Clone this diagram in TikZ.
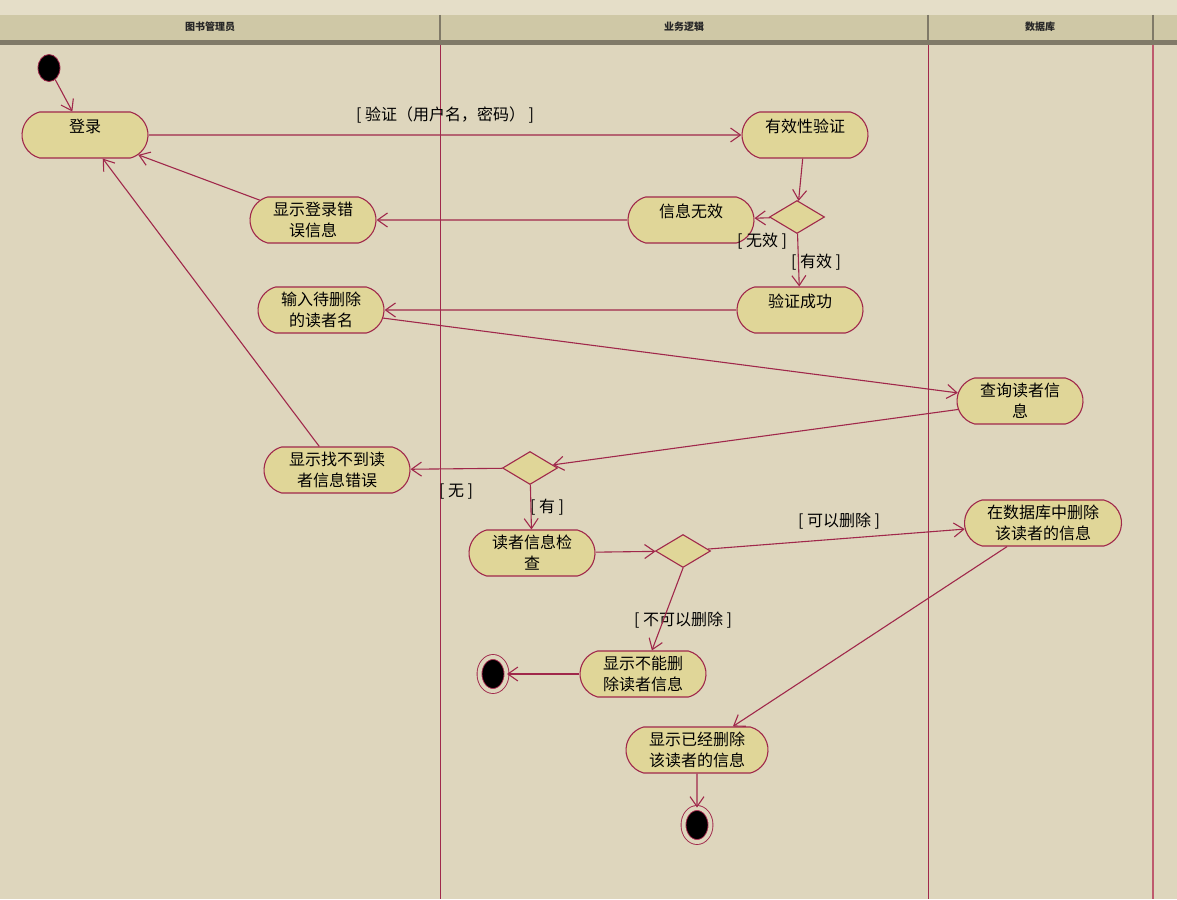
\documentclass[tikz,border=0pt]{standalone}
\usepackage{fontspec}
\setmainfont{Noto Sans CJK SC}
\usepackage{tikz}
\usetikzlibrary{shapes.misc,shapes.geometric,arrows.meta}

\definecolor{bgcol}{RGB}{222,214,189}
\definecolor{topcol}{RGB}{229,222,200}
\definecolor{headcol}{RGB}{207,200,166}
\definecolor{headdark}{RGB}{128,122,104}
\definecolor{umlred}{RGB}{160,40,75}
\definecolor{lanepink}{RGB}{190,90,110}
\definecolor{actfill}{RGB}{224,214,152}

\begin{document}
\begin{tikzpicture}[
    x=1pt, y=-1pt,
    act/.style={rounded rectangle, rounded rectangle arc length=150, draw=umlred, fill=actfill, line width=1.1pt, minimum width=130pt, minimum height=46pt, inner sep=2pt, align=center, font=\fontsize{16}{21}\selectfont},
    oneline/.style={text depth=18pt},
    decision/.style={diamond, draw=umlred, fill=actfill, line width=1.1pt, minimum width=55pt, minimum height=33pt, inner sep=0pt},
    initstate/.style={ellipse, draw=umlred, fill=black, line width=0.8pt, minimum width=22pt, minimum height=27pt, inner sep=0pt},
    endstate/.style={ellipse, draw=umlred, fill=black, double=bgcol, double distance=4pt, line width=0.9pt, minimum width=27pt, minimum height=34pt, inner sep=0pt},
    guard/.style={font=\fontsize{16}{19}\selectfont, inner sep=1pt},
    lanehead/.style={font=\fontsize{10}{12}\selectfont\bfseries, text=black!85},
    arrow/.style={-{Straight Barb[length=10pt,width=14pt]}, draw=umlred, line width=1.1pt}
]
% background and swimlanes
\fill[bgcol] (0,0) rectangle (1177,899);
\useasboundingbox (0,0) rectangle (1177,899);
\fill[topcol] (0,0) rectangle (1177,15);
\fill[headcol] (0,15) rectangle (1177,40);
\fill[headdark] (0,40) rectangle (1177,45);
\foreach \x in {440,928,1153}
    \draw[headdark, line width=2pt] (\x,15) -- (\x,45);
\draw[umlred, line width=0.9pt] (440,45) -- (440,899);
\draw[umlred, line width=0.9pt] (928,45) -- (928,899);
\draw[lanepink, line width=1.6pt] (1153,45) -- (1153,899);
\node[lanehead] (lib) at (210,27) {图书管理员};
\node[lanehead] (logic) at (684,27) {业务逻辑};
\node[lanehead] (db) at (1040,27) {数据库};

% states
\node[initstate] (init) at (49,68) {};
\node[act, oneline] (login) at (85,135) {登录};
\node[act, oneline] (valid) at (805,135) {有效性验证};
\node[decision] (dec1) at (797,217) {};
\node[act, oneline] (invalid) at (691,220) {信息无效};
\node[act] (errmsg) at (313,220) {显示登录错\\误信息};
\node[act, oneline] (succ) at (800,310) {验证成功};
\node[act] (input) at (321,310) {输入待删除\\的读者名};
\node[act] (query) at (1020,401) {查询读者信\\息};
\node[decision] (dec2) at (530,468) {};
\node[act, minimum width=150pt] (notfound) at (337,470) {显示找不到读\\者信息错误};
\node[act] (check) at (532,553) {读者信息检\\查};
\node[decision] (dec3) at (683,551) {};
\node[act, minimum width=161pt] (delete) at (1043,523) {在数据库中删除\\该读者的信息};
\node[act] (cannot) at (643,674) {显示不能删\\除读者信息};
\node[endstate] (end1) at (493,674) {};
\node[act, minimum width=146pt] (done) at (697,750) {显示已经删除\\该读者的信息};
\node[endstate] (end2) at (697,825) {};

% guards
\node[guard] (gcheck) at (445,115) {[ 验证（用户名，密码） ]};
\node[guard] (gbad) at (762,241) {[ 无效 ]};
\node[guard] (ggood) at (816,262) {[ 有效 ]};
\node[guard] (gnone) at (456,492) {[ 无 ]};
\node[guard] (gfound) at (547,507) {[ 有 ]};
\node[guard] (gcan) at (839,521) {[ 可以删除 ]};
\node[guard] (gcannot) at (683,620) {[ 不可以删除 ]};

% transitions
\draw[arrow] (init) -- (login);
\draw[arrow] (login) -- (valid);
\draw[arrow] (valid) -- (dec1);
\draw[arrow] (dec1) -- (invalid);
\draw[arrow] (dec1) -- (succ);
\draw[arrow] (invalid) -- (errmsg);
\draw[arrow] (errmsg) -- (login);
\draw[arrow] (succ) -- (input);
\draw[arrow] (input) -- (query);
\draw[arrow] (query) -- (dec2);
\draw[arrow] (dec2) -- (notfound);
\draw[arrow] (notfound) -- (login);
\draw[arrow] (dec2) -- (check);
\draw[arrow] (check) -- (dec3);
\draw[arrow] (dec3) -- (delete);
\draw[arrow] (dec3.south) -- (cannot);
\draw[arrow] (cannot) -- (end1);
\draw[arrow] (delete) -- (done);
\draw[arrow] (done) -- (end2);
\end{tikzpicture}
\end{document}
